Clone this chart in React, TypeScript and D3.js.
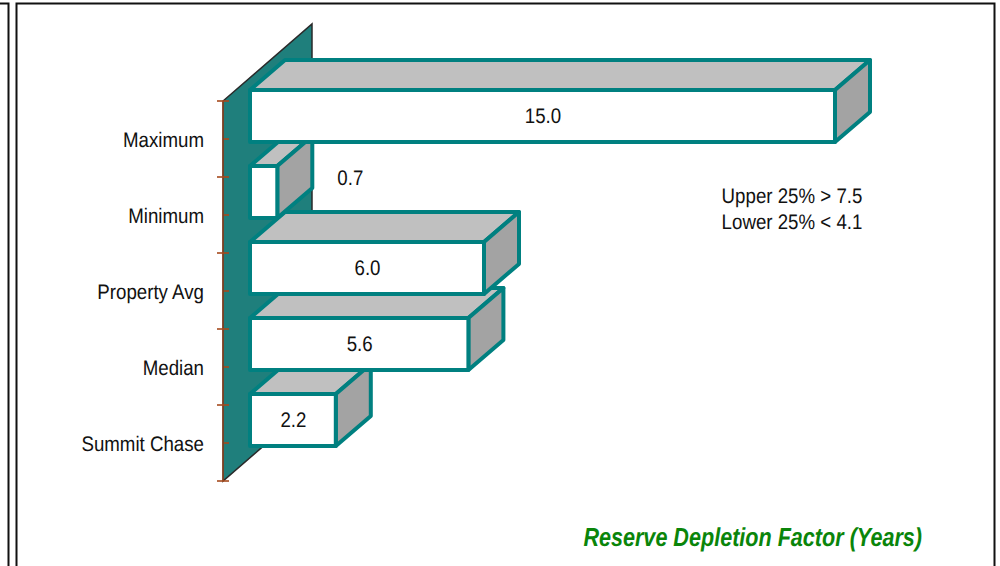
import React from "react";
import * as d3 from "d3";

const categories = ["Maximum", "Minimum", "Property Avg", "Median", "Summit Chase"];
const values = [15.0, 0.7, 6.0, 5.6, 2.2];
const valueLabels = ["15.0", "0.7", "6.0", "5.6", "2.2"];
const notes = ["Upper 25% > 7.5", "Lower 25% < 4.1"];
const axisTitle = "Reserve Depletion Factor (Years)";

const WIDTH = 1000;
const HEIGHT = 566;
const TEAL = "#008080";
const WALL = "#1f7f7c";
const TOP_FACE = "#c0c0c0";
const SIDE_FACE = "#a3a3a3";
const TICK = "#a5491c";
const FONT = "'Liberation Sans', Arial, sans-serif";

// Horizontal value scale along the front of the bars
const x = d3.scaleLinear().domain([0, 15]).range([250, 835]);
// Category bands along the front edge of the back wall
const y = d3.scaleBand<string>().domain(categories).range([101, 481]);

// Oblique projection: offsets for the wall and for one bar's depth
const wallDepth = { dx: 89, dy: -77 };
const barDepth = { dx: 35, dy: -30 };
const wallLeft = 223;
const barHeight = 52;
// Bars stand forward of the wall, so their front faces sit above the band centre
const barLift = 23;

const line = d3.line<[number, number]>();
const poly = (pts: [number, number][]) => line(pts) + "Z";

// Text in a tall, slightly condensed setting of the sans face
function Label({
  x: px,
  y: py,
  anchor = "middle",
  size = 21,
  squeeze = 0.89,
  fill = "#111",
  bold = false,
  children,
}: {
  x: number;
  y: number;
  anchor?: string;
  size?: number;
  squeeze?: number;
  fill?: string;
  bold?: boolean;
  children: React.ReactNode;
}) {
  return (
    <text
      transform={`translate(${px},${py}) scale(${squeeze},1)`}
      dy="0.36em"
      textAnchor={anchor}
      fontSize={size}
      fill={fill}
      fontWeight={bold ? "bold" : "normal"}
      fontStyle={bold ? "italic" : "normal"}
      textRendering="geometricPrecision"
    >
      {children}
    </text>
  );
}

export default function App() {
  const [yTop, yBottom] = y.range();
  const step = y.step();
  const minorTicks = categories.map((c) => y(c)! + step / 2);
  const majorTicks = [yTop, ...categories.map((c) => y(c)! + step)];

  const wall = poly([
    [wallLeft, yTop],
    [wallLeft + wallDepth.dx, yTop + wallDepth.dy],
    [wallLeft + wallDepth.dx, yBottom + wallDepth.dy],
    [wallLeft, yBottom],
  ]);
  const wallEdge = line([
    [wallLeft + wallDepth.dx, yBottom + wallDepth.dy],
    [wallLeft + wallDepth.dx, yTop + wallDepth.dy],
    [wallLeft, yTop],
    [wallLeft, yBottom],
    [wallLeft + wallDepth.dx, yBottom + wallDepth.dy],
  ])!;

  const bars = categories.map((c, i) => {
    const mid = y(c)! + step / 2;
    const top = mid - barLift - barHeight / 2;
    const bottom = top + barHeight;
    const x0 = x(0);
    const x1 = x(values[i]);
    return { c, i, top, bottom, x0, x1 };
  });

  return (
    <svg
      width={WIDTH}
      height={HEIGHT}
      viewBox={`0 0 ${WIDTH} ${HEIGHT}`}
      style={{ position: "fixed", left: 0, top: 0, background: "#fff" }}
      fontFamily={FONT}
    >
      {/* Slide frames */}
      <path d="M0,3.5H8.5V566" fill="none" stroke="#111" strokeWidth={2} />
      <path d="M16.5,566V3.5H994.5V566" fill="none" stroke="#111" strokeWidth={2} />

      {/* Back wall */}
      <path d={wall} fill={WALL} />
      <path d={wallEdge} fill="none" stroke="#2a2a2a" strokeWidth={1.5} />

      {/* Category axis */}
      <line x1={wallLeft} x2={wallLeft} y1={yTop} y2={yBottom} stroke={TICK} strokeWidth={1.2} />
      {majorTicks.map((t) => (
        <line key={t} x1={wallLeft - 6} x2={wallLeft + 6} y1={t} y2={t} stroke={TICK} strokeWidth={1.6} />
      ))}
      {minorTicks.map((t) => (
        <line key={t} x1={wallLeft + 1} x2={wallLeft + 6} y1={t} y2={t} stroke={TICK} strokeWidth={1.6} />
      ))}
      {categories.map((c, i) => (
        <Label key={c} x={204} y={minorTicks[i]} anchor="end">
          {c}
        </Label>
      ))}

      {/* Bars, upper rows painted last so they overlap the rows beneath */}
      {[...bars].reverse().map((b) => {
        const { dx, dy } = barDepth;
        return (
          <g key={b.c} stroke={TEAL} strokeWidth={4} strokeLinejoin="round">
            <path
              d={poly([
                [b.x0, b.top],
                [b.x0 + dx, b.top + dy],
                [b.x1 + dx, b.top + dy],
                [b.x1, b.top],
              ])}
              fill={TOP_FACE}
            />
            <path
              d={poly([
                [b.x1, b.top],
                [b.x1 + dx, b.top + dy],
                [b.x1 + dx, b.bottom + dy],
                [b.x1, b.bottom],
              ])}
              fill={SIDE_FACE}
            />
            <rect x={b.x0} y={b.top} width={b.x1 - b.x0} height={barHeight} fill="#fff" />
          </g>
        );
      })}

      {/* Value labels: the narrow bar carries its label beside it, level with its mid depth */}
      {bars.map((b) => {
        const narrow = b.x1 - b.x0 < 40;
        const cy = (b.top + b.bottom) / 2;
        const lx = narrow ? b.x1 + 73 : (b.x0 + b.x1) / 2 + 0.5;
        const ly = narrow ? cy + barDepth.dy / 2 : cy - 0.5;
        return (
          <Label key={b.c} x={lx} y={ly}>
            {valueLabels[b.i]}
          </Label>
        );
      })}

      {/* Quartile note */}
      {notes.map((n, i) => (
        <Label key={n} x={792} y={195 + i * 26}>
          {n}
        </Label>
      ))}

      <Label x={922} y={536.5} anchor="end" size={26} squeeze={0.83} fill="#0a850a" bold>
        {axisTitle}
      </Label>
    </svg>
  );
}
